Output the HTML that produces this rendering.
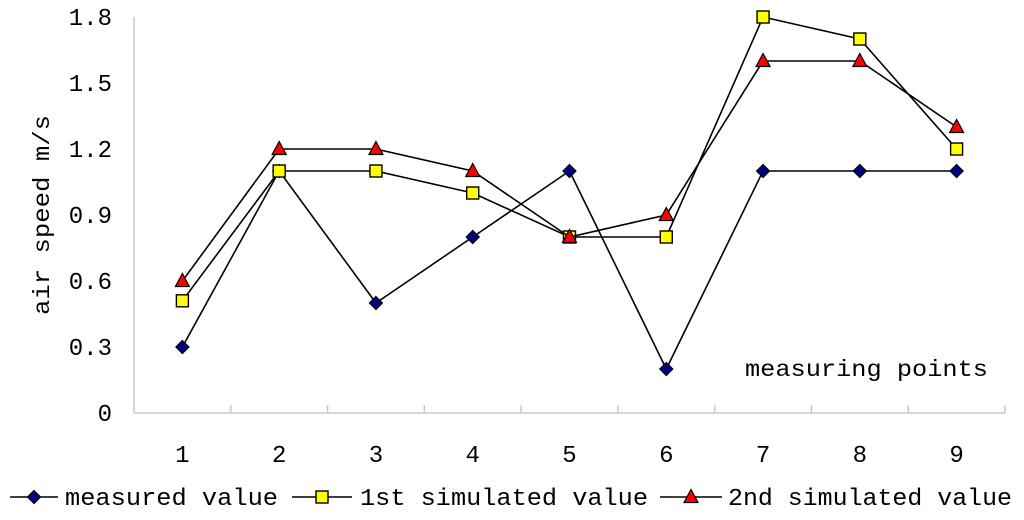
<!DOCTYPE html>
<html><head><meta charset="utf-8"><style>
html,body{margin:0;padding:0;background:#fff;}
svg text{font-family:"Liberation Mono","Noto Serif CJK SC",monospace;fill:#000;}
</style></head><body>
<svg id="chart" width="1024" height="515" xmlns="http://www.w3.org/2000/svg">
<g id="axes"></g>
<g id="series"></g>
<text x="745" y="376" font-size="23" textLength="243" lengthAdjust="spacingAndGlyphs">measuring points</text>
<text transform="translate(49,215) rotate(-90)" text-anchor="middle" font-size="23" textLength="200" lengthAdjust="spacingAndGlyphs">air speed m/s</text>
<g id="legend"></g>
</svg>
<script>
const categories=["1","2","3","4","5","6","7","8","9"];
const measured=[0.3,1.1,0.5,0.8,1.1,0.2,1.1,1.1,1.1];
const sim1=[0.51,1.1,1.1,1.0,0.8,0.8,1.8,1.7,1.2];
const sim2=[0.6,1.2,1.2,1.1,0.8,0.9,1.6,1.6,1.3];
const yTicks=[0,0.3,0.6,0.9,1.2,1.5,1.8];
const yTickLabels=["0","0.3","0.6","0.9","1.2","1.5","1.8"];
const NS="http://www.w3.org/2000/svg";
const L=134,R=1005,T=17,B=413,yMax=1.8;
const bw=(R-L)/categories.length;
function x(i){return L+bw*(i+0.5);}
function y(v){return B-(v/yMax)*(B-T);}
function mk(tag,attrs,parent){const e=document.createElementNS(NS,tag);for(const k in attrs)e.setAttribute(k,attrs[k]);parent.appendChild(e);return e;}
const ax=document.getElementById('axes');
let e=mk('line',{x1:L,y1:T,x2:L,y2:B,stroke:'#c8c8c8','stroke-width':1.5},ax);


e=mk('line',{x1:L,y1:B,x2:R,y2:B,stroke:'#c8c8c8','stroke-width':1.5},ax);


for(let i=1;i<=categories.length;i++){
  e=mk('line',{x1:L+bw*i,y1:B,x2:L+bw*i,y2:B-8,stroke:'#c8c8c8','stroke-width':1.5},ax);
  
  
}
yTicks.forEach((v,i)=>{
  e=mk('text',{x:112,y:y(v)+8,'text-anchor':'end','font-size':24},ax);
  e.textContent=yTickLabels[i];
  
  
});
categories.forEach((c,i)=>{
  e=mk('text',{x:x(i),y:462,'text-anchor':'middle','font-size':24},ax);
  e.textContent=c;
  
  
});
function marker(type,cx,cy,parent){
  let m;
  if(type==='diamond')m=mk('polygon',{points:`${cx},${cy-6.5} ${cx+6.5},${cy} ${cx},${cy+6.5} ${cx-6.5},${cy}`,fill:'#000080',stroke:'#000','stroke-width':1.2},parent);
  else if(type==='square')m=mk('rect',{x:cx-6,y:cy-6,width:12,height:12,fill:'#ffff00',stroke:'#000','stroke-width':1.4},parent);
  else m=mk('polygon',{points:`${cx},${cy-7.5} ${cx+7},${cy+5.5} ${cx-7},${cy+5.5}`,fill:'#ff0000',stroke:'#000','stroke-width':1.2},parent);
  return m;
}
const sg=document.getElementById('series');
const defs=[[measured,'diamond','measured'],[sim1,'square','sim1'],[sim2,'triangle','sim2']];
defs.forEach(([data,type,name])=>{
  const g=mk('g',{},sg);
  
  
  const pl=mk('polyline',{points:data.map((v,i)=>x(i)+','+y(v)).join(' '),fill:'none',stroke:'#000','stroke-width':1.6},g);
  
  
  data.forEach((v,i)=>{
    const m=marker(type,x(i),y(v),g);
    
    
  });
});
const lg=document.getElementById('legend');
const legendItems=[[10,58,'diamond','measured value',65,213],[292,352,'square','1st simulated value',360,288],[660,722,'triangle','2nd simulated value',728,284]];
legendItems.forEach(([x1,x2,type,label,tx,tw])=>{
  const g=mk('g',{},lg);
  
  
  mk('line',{x1:x1,y1:497,x2:x2,y2:497,stroke:'#000','stroke-width':1.6},g);
  marker(type,(x1+x2)/2,497,g);
  const t=mk('text',{x:tx,y:505,'font-size':24,textLength:tw,lengthAdjust:'spacingAndGlyphs'},g);
  t.textContent=label;
});
</script>
</body></html>
